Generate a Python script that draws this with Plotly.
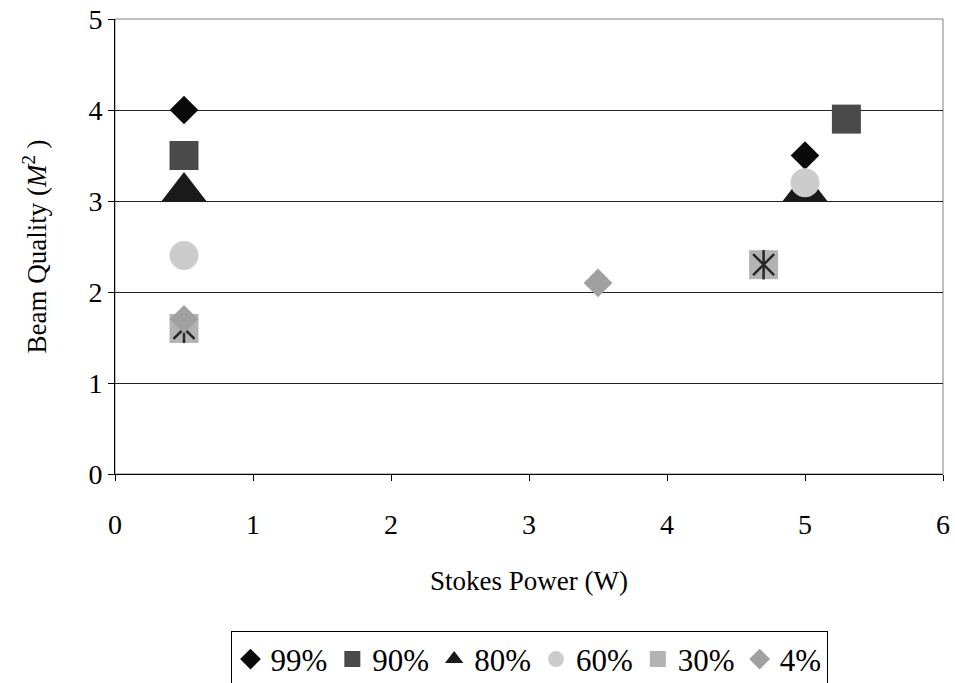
import plotly.graph_objects as go

# Data
power_99 = [0.5, 5.0]
m2_99 = [4.0, 3.5]
power_90 = [0.5, 5.3]
m2_90 = [3.5, 3.9]
power_80 = [0.5, 5.0]
m2_80 = [3.1, 3.1]
power_60 = [0.5, 5.0]
m2_60 = [2.4, 3.2]
power_30 = [0.5, 4.7]
m2_30 = [1.6, 2.3]
power_4 = [0.5, 3.5]
m2_4 = [1.7, 2.1]

x_ticks = [0, 1, 2, 3, 4, 5, 6]
y_ticks = [0, 1, 2, 3, 4, 5]

FONT = "Liberation Serif, Times New Roman, serif"

fig = go.Figure()

def add(x, y, name, symbol, color, size, showlegend=True, line=None):
    marker = dict(symbol=symbol, color=color, size=size)
    if line is not None:
        marker["line"] = line
    else:
        marker["line"] = dict(width=0)
    fig.add_trace(go.Scatter(x=x, y=y, mode="markers", name=name,
                             marker=marker, showlegend=showlegend,
                             legendgroup=name))

add(power_99, m2_99, "99%", "diamond", "#0a0a0a", 22)
add(power_90, m2_90, "90%", "square", "#4a4a4a", 29)
add(power_80, m2_80, "80%", "triangle-up", "#1a1a1a", 40)
add(power_60, m2_60, "60%", "circle", "#cccccc", 29)
add(power_30, m2_30, "30%", "square", "#b3b3b3", 29)
add(power_30, m2_30, "30%", "x-thin-open", "#262626", 21, showlegend=False,
    line=dict(color="#262626", width=2.5))
add(power_30, m2_30, "30%", "line-ns-open", "#262626", 21, showlegend=False,
    line=dict(color="#262626", width=2.5))
add(power_4, m2_4, "4%", "diamond", "#a0a0a0", 22)

fig.update_layout(
    width=955, height=700,
    margin=dict(l=115, r=12, t=19, b=222),
    plot_bgcolor="white", paper_bgcolor="white",
    font=dict(family=FONT, size=28, color="black"),
    showlegend=True,
    legend=dict(orientation="h", x=0.5, xanchor="center", y=-0.346,
                yanchor="top", bordercolor="black", borderwidth=1,
                font=dict(family=FONT, size=31), itemsizing="trace",
                tracegroupgap=0, bgcolor="white", itemwidth=30),
    shapes=[dict(type="rect", xref="paper", yref="paper", x0=0, x1=1, y0=0, y1=1,
                 line=dict(color="#808080", width=1), layer="below")],
)

fig.update_xaxes(range=[0, 6], tickvals=x_ticks, ticks="outside", ticklen=6,
                 tickcolor="black", showline=True, linecolor="black", linewidth=1,
                 showgrid=False, zeroline=False, automargin=False,
                 ticklabelstandoff=19, ticklabeloverflow="allow",
                 title=dict(text="Stokes Power (W)", font=dict(size=27), standoff=32),
                 tickfont=dict(size=28))
fig.update_yaxes(range=[0, 5], tickvals=y_ticks, ticks="outside", ticklen=6,
                 tickcolor="black", showline=True, linecolor="black", linewidth=1,
                 showgrid=True, gridcolor="#222222", gridwidth=1, zeroline=False,
                 automargin=False, ticklabeloverflow="allow",
                 title=dict(text="Beam Quality (<i>M</i><sup>2</sup> )", font=dict(size=27), standoff=33),
                 tickfont=dict(size=28))

fig.write_html(
    "out.html",
    config={"displayModeBar": False},
    post_script="document.body.style.margin='0';document.body.style.overflow='hidden';",
)
